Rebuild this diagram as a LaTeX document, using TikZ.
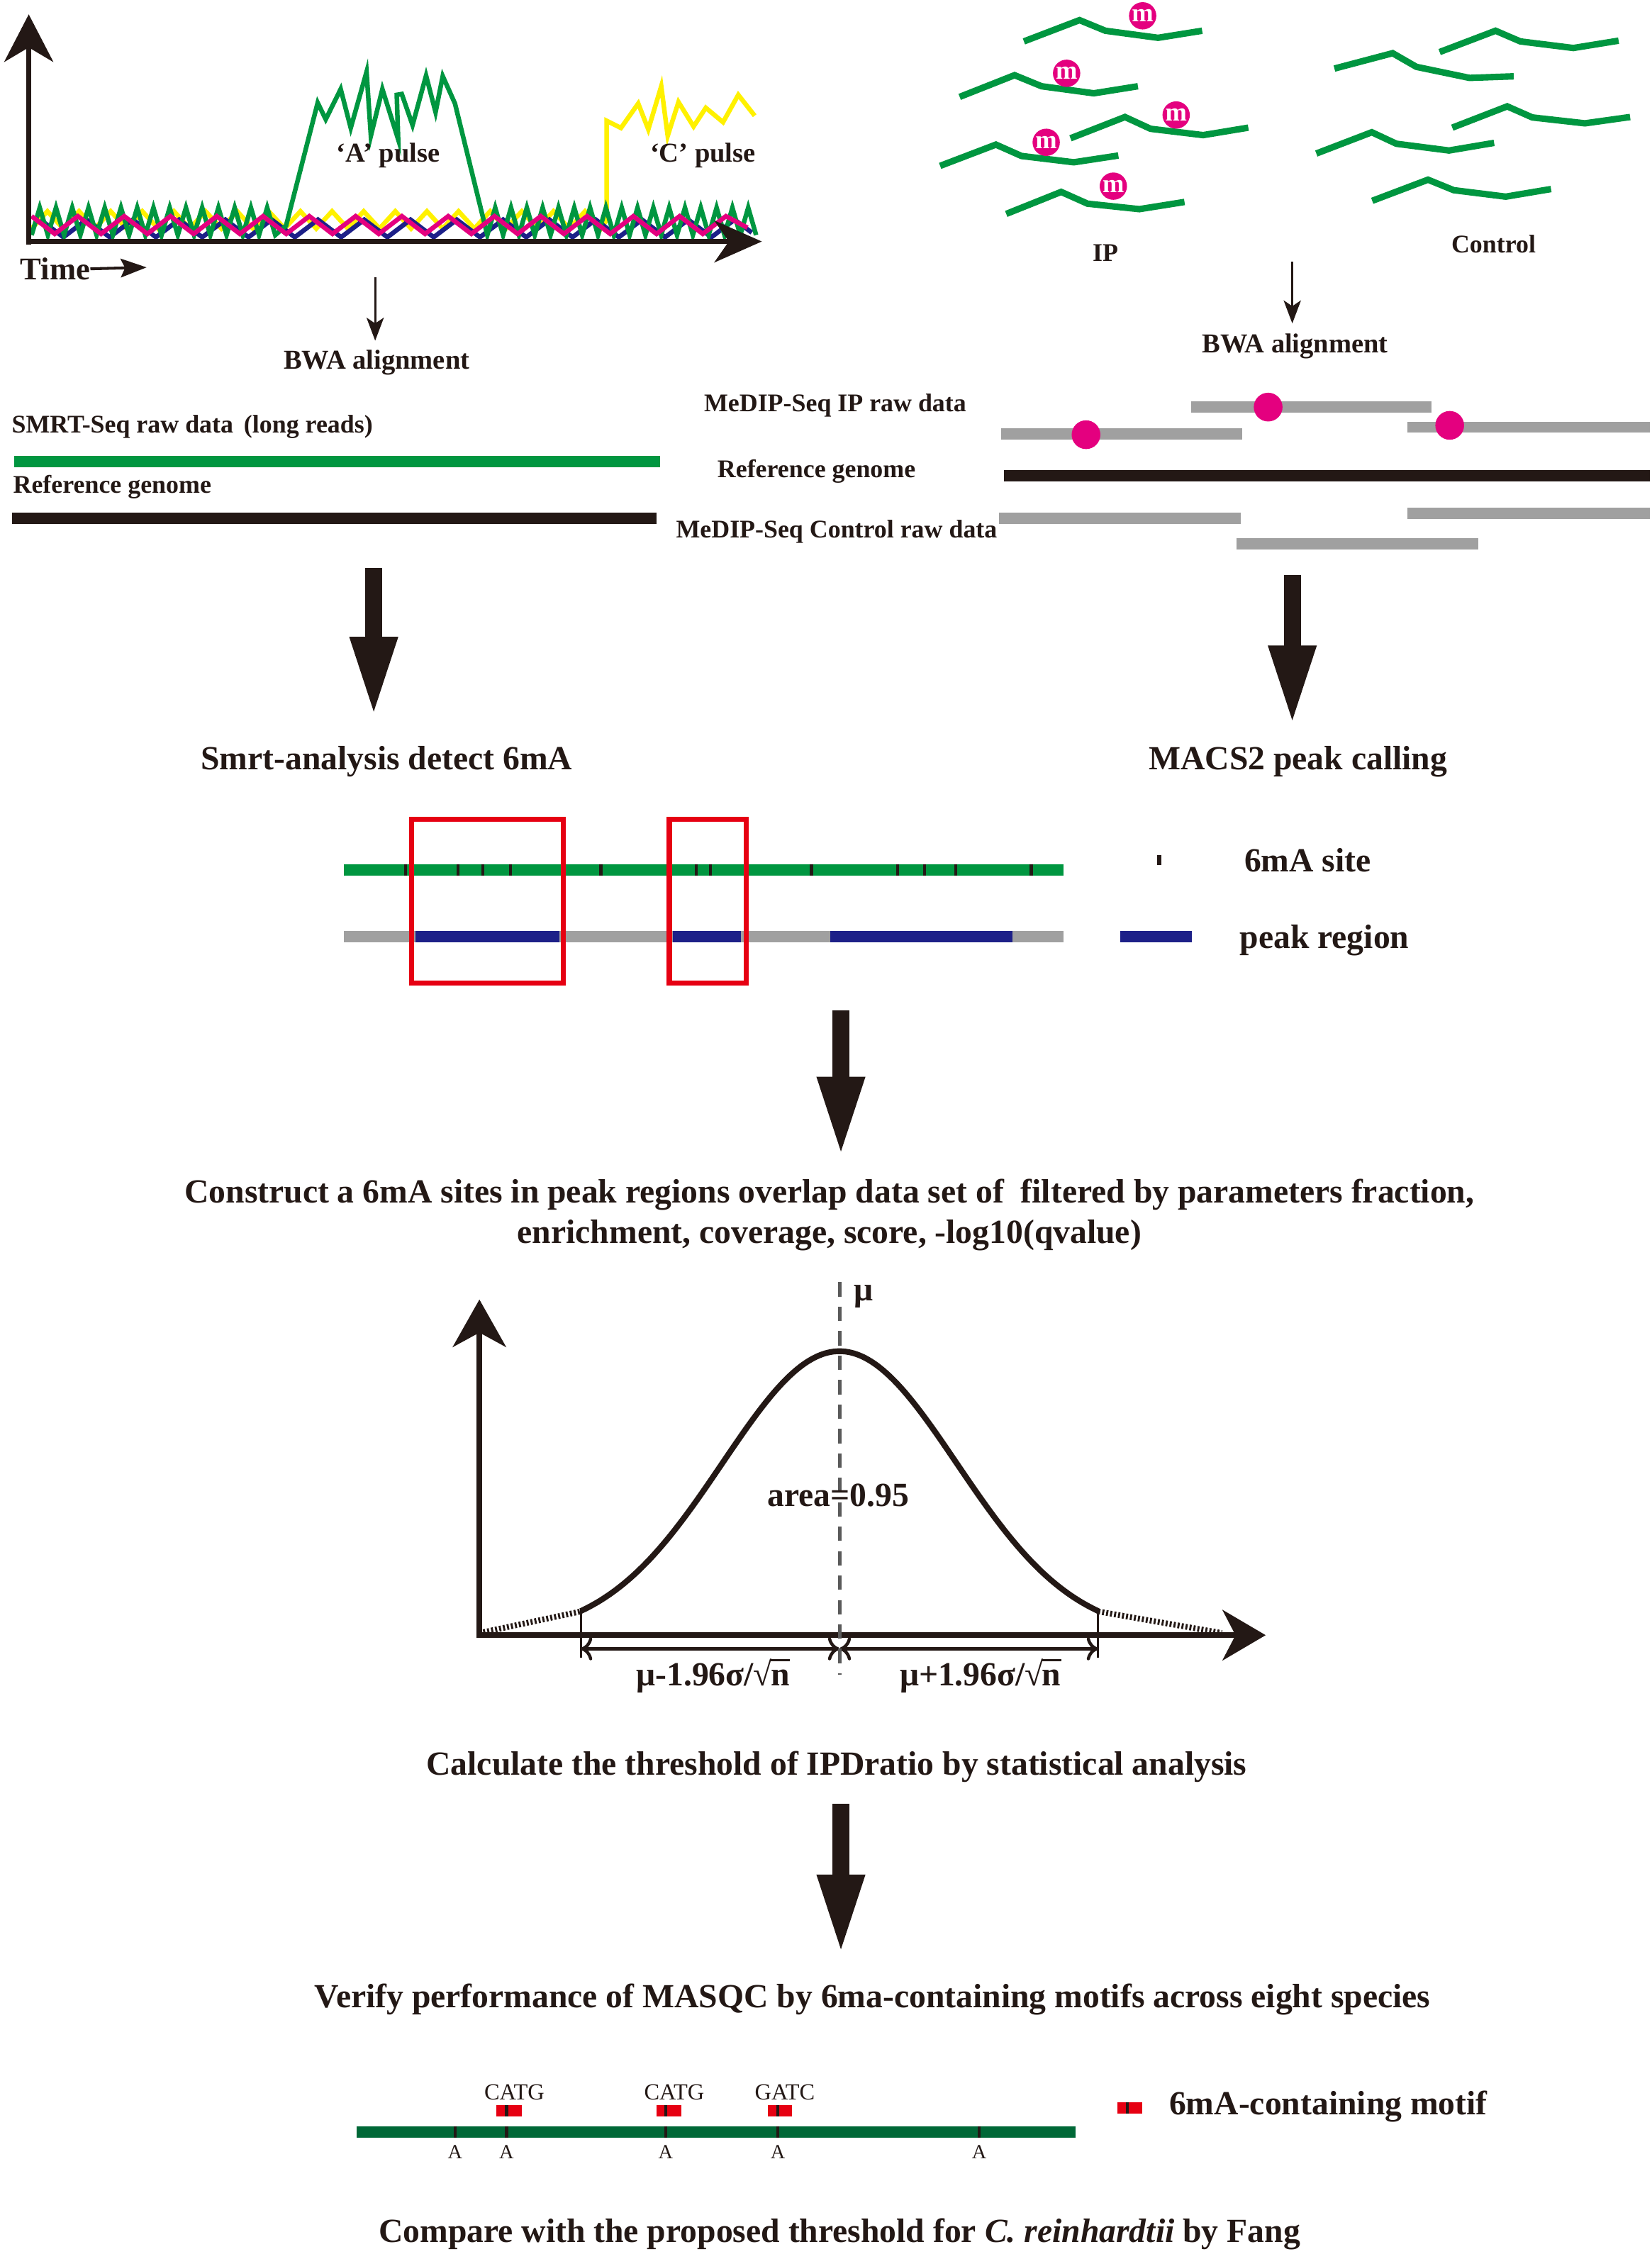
\documentclass[tikz,border=0pt]{standalone}
\usepackage{fontspec}
\setmainfont{Liberation Serif}
\usetikzlibrary{arrows.meta,positioning}

\definecolor{ink}{RGB}{35,24,21}
\definecolor{seqgreen}{RGB}{0,150,64}
\definecolor{dkgreen}{RGB}{0,104,55}
\definecolor{sigyellow}{RGB}{255,241,0}
\definecolor{navy}{RGB}{29,32,136}
\definecolor{mag}{RGB}{228,0,127}
\definecolor{readgray}{RGB}{160,160,160}
\definecolor{boxred}{RGB}{230,0,18}

\begin{document}
\begin{tikzpicture}[
    x=1pt, y=-1pt,
    every node/.style={inner sep=0pt, text=ink},
    lbl/.style={font=\fontsize{17.7}{20}\selectfont\bfseries},
    midlbl/.style={font=\fontsize{19}{22}\selectfont\bfseries},
    biglbl/.style={font=\fontsize{23.5}{28}\selectfont\bfseries},
    seqlbl/.style={font=\fontsize{16}{18}\selectfont},
    baselbl/.style={font=\fontsize{14}{16}\selectfont},
    noise/.style={line width=3.2pt, line join=miter},
    frag/.style={seqgreen, line width=4.5pt},
    read/.style={line width=7.8pt},
    mdot/.style={circle, fill=mag, minimum size=19pt, text=white, font=\fontsize{18}{18}\selectfont\bfseries},
    site/.style={ink, line width=2pt},
    axis/.style={ink, line width=3.5pt},
    thinarrow/.style={ink, line width=1.5pt, -{Stealth[length=16pt, width=12pt, inset=4pt]}},
    bigarrow/.style={ink, line width=12pt, -{Triangle[length=56pt, width=30pt]}},
    dimarrow/.style={ink, line width=2.2pt, {Computer Modern Rightarrow[length=8pt, width=16pt]}-{Computer Modern Rightarrow[length=8pt, width=16pt]}},
    tail/.style={ink, line width=4pt, dash pattern=on 1.4pt off 1.4pt}
]
\useasboundingbox (0,0) rectangle (1149,1568);

% SMRT signal trace
\draw[noise, sigyellow] (22,159) \foreach \i in {1,...,18} { -- ++(11,-12) -- ++(11,12) }
    -- (422,153) -- (422,84) -- (432,89) -- (444,72) -- (451,90) -- (460,60) -- (464.5,94.5)
    -- (472,71) -- (482.5,88) -- (491,75) -- (503,85) -- (513.6,66) -- (525,80.5);
\draw[noise, navy] (28,152.8) \foreach \i in {1,...,15} { -- ++(16.1,12.2) -- ++(16.1,-12.2) } -- ++(12,9);
\draw[noise, seqgreen] (22,163.5) \foreach \i in {1,...,15} { -- ++(5.65,-19) -- ++(5.65,19) }
    -- (199,157) -- (221,71.5) -- (226.6,83) -- (237,62) -- (244,89) -- (255,50) -- (258,94.5)
    -- (266,62) -- (277,97) -- (276,66) -- (279.5,65.4) -- (287,87) -- (296.4,52.6) -- (303,78)
    -- (308,53) -- (316.5,72) -- (339,163.5)
    \foreach \i in {1,...,17} { -- ++(5.5,-19) -- ++(5.5,19) };
\draw[noise, mag] (22,150.4) \foreach \i in {1,...,15} { -- ++(16.1,12.3) -- ++(16.1,-12.3) } -- ++(15,8);

\draw[axis, -{Stealth[length=33pt, width=34pt, inset=10pt]}] (20,170) -- (20,10);
\draw[axis, -{Stealth[length=33pt, width=29pt, inset=10pt]}] (18.5,168) -- (530,168);
\node[midlbl] (apulse) at (270,108) {‘A’ pulse};
\node[midlbl] (cpulse) at (489,108) {‘C’ pulse};
\node[font=\fontsize{22}{24}\selectfont\bfseries, anchor=west] (time) at (14,187) {Time};
\coordinate (timeend) at (102,186);
\draw[ink, line width=2pt, -{Stealth[length=18pt, width=13pt, inset=3pt]}] (time.east) -- (timeend);

% MeDIP fragments
\draw[frag] (712.3,28.8) -- (751,14) -- (769,21.4) -- (805.6,26.3) -- (836.3,21.4);
\draw[frag] (667.6,67.4) -- (705.8,52.3) -- (724.6,60) -- (760.9,64.9) -- (791.6,60);
\draw[frag] (744.7,96.2) -- (782.6,81.4) -- (800.4,89.6) -- (837,94) -- (868.4,88.8);
\draw[frag] (654,115.4) -- (692.8,100.6) -- (710.6,108.5) -- (747,112.9) -- (778,108.2);
\draw[frag] (700,148.8) -- (738.2,133.5) -- (756.6,141.7) -- (792.6,145.5) -- (824,140.5);
\node[mdot] (m1) at (794.9,11) {m};
\node[mdot] (m2) at (742,51) {m};
\node[mdot] (m3) at (818.2,80) {m};
\node[mdot] (m4) at (727.8,99) {m};
\node[mdot] (m5) at (774.5,129.5) {m};

\draw[frag] (1001.5,36.2) -- (1040.4,21.4) -- (1057.6,28.8) -- (1094.5,33.4) -- (1126,28.3);
\draw[frag] (928.3,47.7) -- (968.8,37) -- (985.3,46.5) -- (1022.3,54.2) -- (1053,53.1);
\draw[frag] (1010.3,88.8) -- (1048.5,74) -- (1066,81.7) -- (1102.6,85.8) -- (1134,81.4);
\draw[frag] (915.7,106.8) -- (954.3,92) -- (971.4,100) -- (1008,104.7) -- (1039.4,99.4);
\draw[frag] (954.6,139.7) -- (993.4,125) -- (1011.3,132.3) -- (1047.5,136.8) -- (1079,131.5);
\node[lbl] (ip) at (769,176) {IP};
\node[lbl] (control) at (1039,170) {Control};

% Alignment
\coordinate (alnL) at (261,193);
\coordinate (alnR) at (899,182);
\node[midlbl] (bwaL) at (262,252) {BWA alignment};
\node[midlbl] (bwaR) at (901,241) {BWA alignment};
\draw[thinarrow] (alnL) -- (261,237);
\draw[thinarrow] (alnR) -- (899,225);

\node[lbl, anchor=west] (smrtraw) at (8,297) {SMRT-Seq raw data \,(long reads)};
\draw[read, seqgreen] (10,321) -- (459,321);
\node[lbl, anchor=west] (refL) at (9,339) {Reference genome};
\draw[read, ink] (8.6,360.5) -- (456.6,360.5);

\node[lbl] (ipraw) at (581,282) {MeDIP-Seq IP raw data};
\node[lbl] (refR) at (568,328) {Reference genome};
\node[lbl] (ctrlraw) at (582,370) {MeDIP-Seq Control raw data};
\draw[read, readgray] (696.5,301.8) -- (864.3,301.8);
\draw[read, readgray] (828.4,283.3) -- (995.8,283.3);
\draw[read, readgray] (979.2,297.2) -- (1147.5,297.2);
\fill[mag] (755.5,302.4) circle (10pt);
\fill[mag] (882.2,283.2) circle (10pt);
\fill[mag] (1008.5,295.9) circle (10pt);
\draw[read, ink] (698.6,330.8) -- (1147.5,330.8);
\draw[read, readgray] (695.1,360.5) -- (863,360.5);
\draw[read, readgray] (979.2,356.9) -- (1147.5,356.9);
\draw[read, readgray] (860.4,378.2) -- (1028.6,378.2);

% Detection
\coordinate (downL) at (260,395);
\coordinate (downR) at (899,400);
\draw[bigarrow] (downL) -- (260,499);
\draw[bigarrow] (downR) -- (899,505);
\node[biglbl] (smrt) at (269,530) {Smrt-analysis detect 6mA};
\node[biglbl] (macs) at (903,530) {MACS2 peak calling};

% Overlap
\draw[read, seqgreen] (239.4,605.2) -- (739.8,605.2);
\draw[read, readgray] (239.4,651.5) -- (739.8,651.5);
\foreach \a/\b in {289.2/389.1, 468.3/515.3, 577.8/704.5}
    \draw[read, navy] (\a,651.5) -- (\b,651.5);
\foreach \t in {282.2,318.6,335.7,354.9,418,484.3,494,564.5,624.4,643,665,717.4}
    \draw[site] (\t,601.3) -- (\t,609);
\draw[boxred, line width=3.5pt] (286.5,570) rectangle (391.8,683.8);
\draw[boxred, line width=3.5pt] (465.6,570) rectangle (519,683.8);

\draw[ink, line width=3pt] (806.6,594.7) -- (806.6,601.6);
\node[biglbl, anchor=west] (sitelbl) at (865.5,598.3) {6mA site};
\draw[read, navy] (779.4,651.5) -- (829,651.5);
\node[biglbl, anchor=west] (peaklbl) at (862.3,654) {peak region};

\coordinate (downM) at (585,703);
\draw[bigarrow] (downM) -- (585,805);
\node[biglbl, align=center] (construct) at (577,845)
    {Construct a 6mA sites in peak regions overlap data set of \ filtered by parameters fraction,\\
     enrichment, coverage, score, -log10(qvalue)};

% Threshold
\draw[axis, line width=4pt, -{Stealth[length=33pt, width=37pt, inset=10pt]}] (333.5,1139.5) -- (333.5,904);
\draw[axis, line width=4pt, -{Stealth[length=30pt, width=35pt, inset=9pt]}] (331.5,1137.5) -- (880.5,1137.5);
\draw[tail] (333.5,1136) -- (404,1121);
\draw[tail] (764,1121) -- (850,1136);
\draw[ink, line width=4pt] plot[domain=404:764, samples=90, smooth] (\x, {1138 - 198*exp(-((\x-584)/81.5)^2/2)});
\draw[ink, line width=1.5pt] (404,1119) -- (404,1153);
\draw[ink, line width=1.5pt] (764,1119) -- (764,1153);
\draw[dimarrow] (404,1147) -- (584,1147);
\draw[dimarrow] (584,1147) -- (764,1147);
\draw[color={rgb,255:red,90;green,90;blue,90}, line width=2.2pt, dash pattern=on 10pt off 7pt] (584.2,892) -- (584.2,1165);
\node[biglbl] (mu) at (601,902) {μ};
\node[biglbl] (area) at (583,1040) {area=0.95};
\node[biglbl] (lower) at (496,1166) {μ-1.96σ/√\kern-0.04em\rlap{\rule[0.74em]{0.56em}{0.055em}}n};
\node[biglbl] (upper) at (682,1166) {μ+1.96σ/√\kern-0.04em\rlap{\rule[0.74em]{0.56em}{0.055em}}n};
\node[biglbl] (calc) at (582,1229) {Calculate the threshold of IPDratio by statistical analysis};

\coordinate (downB) at (585,1255);
\draw[bigarrow] (downB) -- (585,1360);
\node[biglbl] (verify) at (607,1391) {Verify performance of MASQC by 6ma-containing motifs across eight species};

% Motifs
\draw[dkgreen, line width=8pt] (248.2,1483) -- (748,1483);
\foreach \t in {316.6,352.4,463.1,541.1,681.2} {
    \draw[site] (\t,1479) -- (\t,1487);
    \node[baselbl] at (\t,1497) {A};
}
\foreach \a/\b/\t in {345.5/363.1/352.4, 456.7/473.8/463.1, 534.2/550.8/541.1} {
    \fill[boxred] (\a,1464.2) rectangle (\b,1472.2);
    \draw[site] (\t,1464.2) -- (\t,1472.2);
}
\node[seqlbl] (catg1) at (357.8,1455.5) {CATG};
\node[seqlbl] (catg2) at (469,1455.5) {CATG};
\node[seqlbl] (gatc) at (546,1455.5) {GATC};
\fill[boxred] (777.4,1462.5) rectangle (794.5,1470.3);
\draw[site] (784.4,1462.5) -- (784.4,1470.3);
\node[biglbl, anchor=west] (motiflbl) at (813.2,1465.3) {6mA-containing motif};

\node[biglbl] (compare) at (584,1554) {Compare with the proposed threshold for \textit{C. reinhardtii} by Fang};

\end{tikzpicture}
\end{document}
